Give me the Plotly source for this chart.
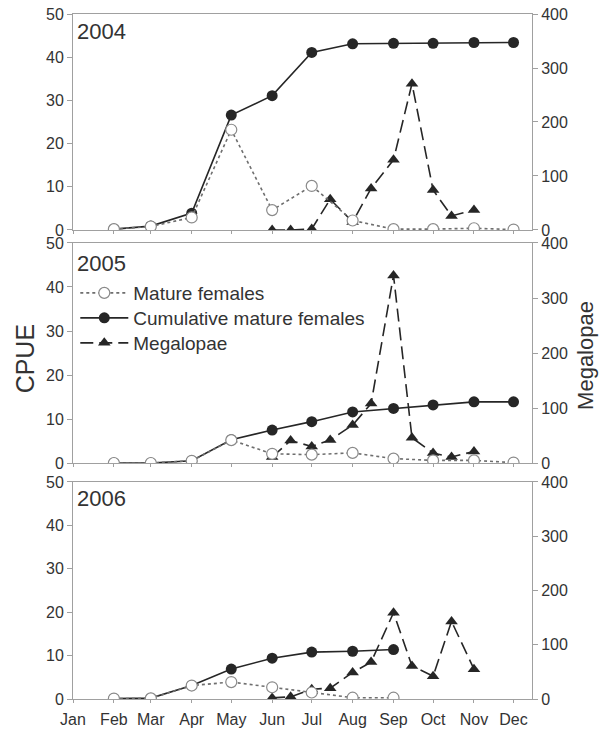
import plotly.graph_objects as go

# ---------------- data ----------------
years = ["2004", "2005", "2006"]
monthly_dates = ["02-01", "03-01", "04-01", "05-01", "06-01", "07-01",
                 "08-01", "09-01", "10-01", "11-01", "12-01"]
semi_dates = ["06-01", "06-15", "07-01", "07-15", "08-01", "08-15",
              "09-01", "09-15", "10-01", "10-15", "11-01"]

mature_2004 = [0.2, 0.8, 2.9, 23.2, 4.6, 10.2, 2.2, 0.2, 0.2, 0.4, 0.1]
cumul_2004 = [0.2, 0.9, 3.9, 26.6, 31.1, 41.1, 43.1, 43.2, 43.2, 43.4, 43.4]
megal_2004 = [0, 0, 2, 57, 15, 77, 130, 271, 74, 26, 37]

mature_2005 = [0, 0, 0.5, 5.2, 2.1, 1.9, 2.3, 1.0, 0.6, 0.6, 0.1]
cumul_2005 = [0, 0, 0.5, 5.3, 7.5, 9.4, 11.6, 12.4, 13.2, 13.9, 13.9]
megal_2005 = [11, 41, 30, 42, 69, 108, 341, 46, 18, 11, 21]

mature_2006 = [0.1, 0.15, 3.1, 3.9, 2.7, 1.5, 0.3, 0.3]
cumul_2006 = [0.1, 0.2, 3.1, 6.9, 9.4, 10.8, 11.0, 11.4]
megal_2006 = [2, 4, 18, 20, 49, 68, 159, 61, 42, 143, 55]

month_labels = ["Jan", "Feb", "Mar", "Apr", "May", "Jun",
                "Jul", "Aug", "Sep", "Oct", "Nov", "Dec"]
cpue_ticks = [0, 10, 20, 30, 40, 50]
megal_ticks = [0, 100, 200, 300, 400]

mature = [mature_2004, mature_2005, mature_2006]
cumul = [cumul_2004, cumul_2005, cumul_2006]
megal = [megal_2004, megal_2005, megal_2006]

# common dummy year for the shared month axis
BASE = "2005"
def d(md):
    return f"{BASE}-{md}"

FONT = "Arial, Liberation Sans, sans-serif"
AX = "#a0a0a0"
TXT = "#333333"
DARK = "#262626"

# panel geometry (paper coords)
domains = [[0.6847, 1.0], [0.3445, 0.6657], [0.0, 0.3168]]

fig = go.Figure()

month_tickvals = [d(f"{i:02d}-01") for i in range(1, 13)]

for p in range(3):
    xa = "x" if p == 0 else f"x{p+1}"
    ym = "y" if p == 0 else f"y{2*p+1}"      # megalopae (base, right side)
    yc = f"y{2*p+2}"                          # CPUE (overlay, left side)
    show = (p == 1)
    n = len(mature[p])
    mx = [d(m) for m in monthly_dates[:n]]
    sx = [d(m) for m in semi_dates[:len(megal[p])]]

    fig.add_trace(go.Scatter(
        x=sx, y=megal[p], xaxis=xa, yaxis=ym, mode="lines+markers",
        name="Megalopae", showlegend=show, legend="legend3",
        line=dict(color=DARK, width=1.6, dash="13px,6px"),
        marker=dict(symbol="triangle-up", size=11, color=DARK)))
    fig.add_trace(go.Scatter(
        x=mx, y=cumul[p], xaxis=xa, yaxis=yc, mode="lines+markers",
        name="Cumulative mature females", showlegend=show, legend="legend2",
        line=dict(color=DARK, width=1.6),
        marker=dict(symbol="circle", size=11, color=DARK)))
    fig.add_trace(go.Scatter(
        x=mx, y=mature[p], xaxis=xa, yaxis=yc, mode="lines+markers",
        name="Mature females", showlegend=show, legend="legend",
        line=dict(color="#6e6e6e", width=1.6, dash="dot"),
        marker=dict(symbol="circle", size=11, color="white",
                    line=dict(color="#8a8a8a", width=1.2))))

    xkey = "xaxis" if p == 0 else f"xaxis{p+1}"
    ymkey = "yaxis" if p == 0 else f"yaxis{2*p+1}"
    yckey = f"yaxis{2*p+2}"
    fig.layout[xkey] = dict(
        anchor=ym, domain=[0, 1], type="date", automargin=False,
        range=[d("01-01"), d("12-15")],
        tickvals=month_tickvals, ticktext=month_labels,
        showticklabels=(p == 2), ticks="outside", ticklen=3,
        ticklabelstandoff=3,
        tickcolor=AX, showline=True, linecolor=AX, linewidth=1,
        mirror=True, showgrid=False, zeroline=False,
        tickfont=dict(family=FONT, size=16, color=TXT))
    fig.layout[ymkey] = dict(
        domain=domains[p], anchor=xa, side="right", range=[0, 400],
        automargin=False,
        tickvals=megal_ticks, ticks="outside", ticklen=5, tickcolor=AX,
        showline=True, linecolor=AX, linewidth=1, showgrid=False,
        zeroline=False, tickfont=dict(family=FONT, size=16, color=TXT))
    fig.layout[yckey] = dict(
        overlaying=ym, anchor=xa, side="left", range=[0, 50],
        automargin=False,
        tickvals=cpue_ticks, ticks="outside", ticklen=5, tickcolor=AX,
        showline=True, linecolor=AX, linewidth=1, showgrid=False,
        zeroline=False, tickfont=dict(family=FONT, size=16, color=TXT))

# year labels
year_y = [0.975, 0.636, 0.2927]
for yr, yy in zip(years, year_y):
    fig.add_annotation(text=yr, xref="paper", yref="paper", x=0.004, y=yy,
                       xanchor="left", yanchor="middle", showarrow=False,
                       font=dict(family=FONT, size=22, color=TXT))

fig.add_annotation(text="CPUE", xref="paper", yref="paper", x=-0.105, y=0.497,
                   textangle=-90, showarrow=False, xanchor="center", yanchor="middle",
                   font=dict(family=FONT, size=25, color=TXT))
fig.add_annotation(text="Megalopae", xref="paper", yref="paper", x=1.115, y=0.502,
                   textangle=-90, showarrow=False, xanchor="center", yanchor="middle",
                   font=dict(family=FONT, size=22, color=TXT))

leg_common = dict(x=0.005, xanchor="left", yanchor="middle",
                  bgcolor="rgba(0,0,0,0)", borderwidth=0,
                  font=dict(family=FONT, size=19, color=TXT), itemwidth=48)
fig.update_layout(
    width=605, height=732,
    margin=dict(l=73, r=73, t=14, b=33, autoexpand=False),
    paper_bgcolor="white", plot_bgcolor="white",
    showlegend=True,
    legend=dict(y=0.5927, **leg_common),
    legend2=dict(y=0.5562, **leg_common),
    legend3=dict(y=0.5197, **leg_common),
)

fig.write_html("out.html")
